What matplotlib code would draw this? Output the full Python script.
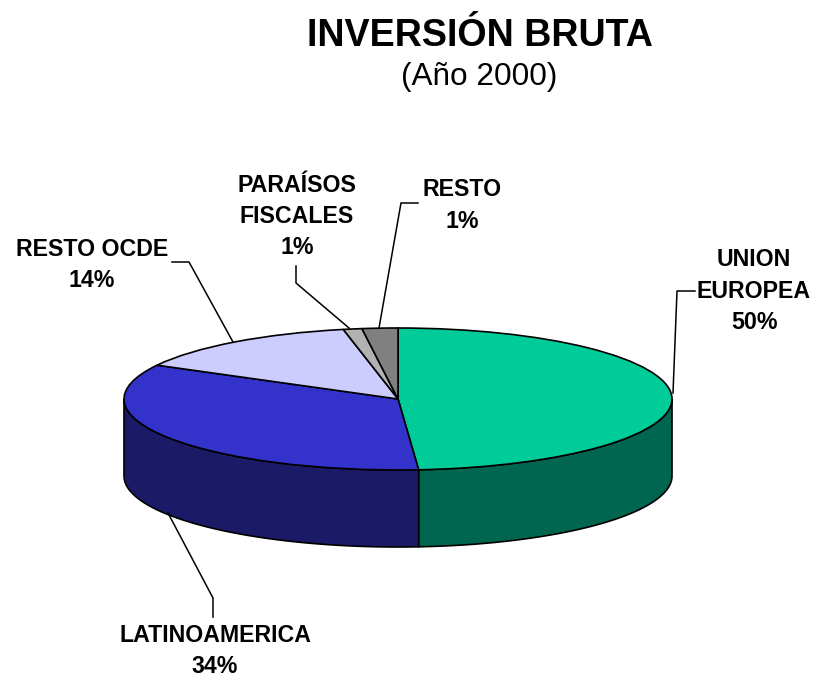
import numpy as np
import matplotlib
matplotlib.use("Agg")
import matplotlib.pyplot as plt

names = ["UNION\nEUROPEA", "LATINOAMERICA", "RESTO OCDE", "PARAÍSOS\nFISCALES", "RESTO"]
shares = [48.8, 34.1, 13.9, 1.1, 2.1]
percents = ["50%", "34%", "14%", "1%", "1%"]
top_colors = ["#00CC99", "#3333CC", "#CCCCFF", "#B2B2B2", "#808080"]
wall_colors = ["#006650", "#1A1A66", "#66667F", "#595959", "#404040"]

W, H = 814, 678
CX, CY, RX, RY, DEPTH = 398, 399, 274, 71, 77


def dx(px):
	return (px - CX) / RX


def dy(py):
	return (CY - py) / RY


fig = plt.figure(figsize=(W / 100, H / 100), dpi=100)
plt.rcParams["font.family"] = ["Liberation Sans", "DejaVu Sans"]
ax = fig.add_axes([0, 0, 1, 1])

ax.pie(shares, colors=top_colors, startangle=90, counterclock=False, radius=1,
	wedgeprops={"edgecolor": "black", "linewidth": 1.2, "zorder": 3})
ax.set_aspect("auto")
ax.set_xlim(dx(0), dx(W))
ax.set_ylim(dy(H), dy(0))
ax.axis("off")

# side wall, only the part of each slice facing the viewer
d = DEPTH / RY
edges = np.cumsum([0] + shares) / sum(shares) * 2 * np.pi
for i in range(len(shares)):
	a = max(edges[i], np.pi / 2)
	b = min(edges[i + 1], 3 * np.pi / 2)
	if b <= a:
		continue
	t = np.linspace(a, b, 120)
	xs = np.sin(t)
	ys = np.cos(t)
	px = np.concatenate([xs, xs[::-1]])
	py = np.concatenate([ys, ys[::-1] - d])
	ax.fill(px, py, facecolor=wall_colors[i], edgecolor="black", linewidth=1.2, zorder=2)

# leader lines in pixels
leaders = [
	([695, 677, 673], [291, 291, 393]),
	([168, 213, 213], [513, 598, 617]),
	([172, 189, 233], [262, 262, 342]),
	([296, 296, 349], [266, 283, 328]),
	([418, 401, 379], [203, 203, 328]),
]
for lx, ly in leaders:
	ax.plot(dx(np.array(lx)), dy(np.array(ly)), color="black", lw=1.1, zorder=4)

label_pos = [(754, 291), (215, 651), (92, 265), (297, 216.5), (462, 205.5)]
for name, pct, (x, y) in zip(names, percents, label_pos):
	ax.text(dx(x), dy(y), name + "\n" + pct, ha="center", va="center", fontsize=16.7,
		fontweight="bold", linespacing=1.45, color="black")

ax.text(dx(480), dy(36), "INVERSIÓN BRUTA", ha="center", va="center", fontsize=27.1,
	fontweight="bold", color="black")
ax.text(dx(479), dy(76.5), "(Año 2000)", ha="center", va="center", fontsize=22.7, color="black")

fig.savefig("out.png", dpi=100)
